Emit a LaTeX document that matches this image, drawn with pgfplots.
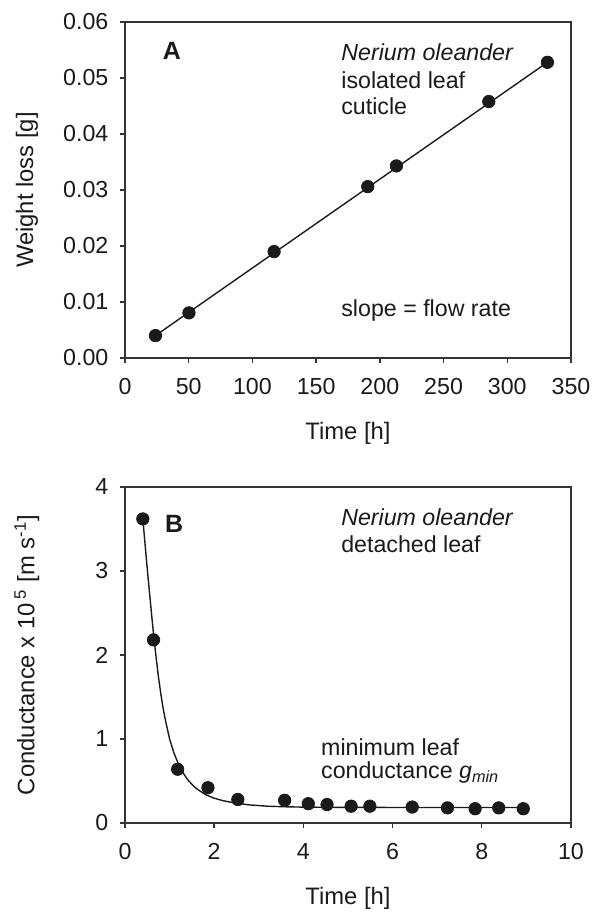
\documentclass[border=0pt]{standalone}
\usepackage{fontspec}
\setmainfont{Liberation Sans}
\usepackage{pgfplots}
\pgfplotsset{compat=1.18}
\definecolor{ink}{HTML}{1A1A1A}
\definecolor{axc}{HTML}{333333}
\begin{document}
\begin{tikzpicture}
\path[use as bounding box] (0,0) rectangle (299.5pt,456pt);
\pgfplotsset{
  panel/.style={
    scale only axis, width=223pt, height=168pt, anchor=south west,
    axis line style={axc, line width=0.8pt},
    tick style={axc, line width=0.7pt},
    tick align=outside, major tick length=2.5pt,
    xtick pos=bottom, ytick pos=left,
    tick label style={font=\fontsize{11.6}{13}\selectfont, text=ink},
    /pgf/number format/assume math mode=true,
    xticklabel style={yshift=-4pt},
    yticklabel style={xshift=-2.3pt},
    every axis x label/.style={at={(axis description cs:0.5,0)}, anchor=center, yshift=-37.5pt, font=\fontsize{11.9}{14}\selectfont, text=ink},
    every axis y label/.style={at={(axis description cs:-0.22,0.5)}, anchor=center, rotate=90, font=\fontsize{11.9}{14}\selectfont, text=ink},
    clip=false,
  }
}
\begin{axis}[panel, at={(62.5pt,277pt)},
  xmin=0, xmax=350, ymin=0, ymax=0.06,
  xtick={0,50,...,350}, ytick={0,0.01,...,0.06},
  yticklabel style={/pgf/number format/fixed, /pgf/number format/fixed zerofill, /pgf/number format/precision=2},
  scaled y ticks=false,
  xlabel={Time [h]}, ylabel={Weight loss [g]},
]
\addplot[ink, line width=0.7pt] coordinates {(23.9,0.0040) (331.5,0.0528)};
\addplot[only marks, mark=*, mark size=3.1pt, ink] coordinates {
(23.9,0.0040) (50.2,0.00806) (117,0.0190) (190.5,0.0306) (213,0.0343) (285.5,0.0458) (331.5,0.0528)};
\node[font=\fontsize{12.5}{14}\selectfont\bfseries, text=ink] at (axis cs:36.9,0.0548) {A};
\node[anchor=west, inner sep=0pt, font=\fontsize{11.6}{13}\selectfont\itshape, text=ink] at (axis cs:169.5,0.0546) {Nerium oleander};
\node[anchor=west, inner sep=0pt, font=\fontsize{11.6}{13}\selectfont, text=ink] at (axis cs:169.5,0.0496) {isolated leaf};
\node[anchor=west, inner sep=0pt, font=\fontsize{11.6}{13}\selectfont, text=ink] at (axis cs:169.5,0.0450) {cuticle};
\node[anchor=west, inner sep=0pt, font=\fontsize{11.6}{13}\selectfont, text=ink] at (axis cs:169.5,0.00857) {slope = flow rate};
\end{axis}
\begin{axis}[panel, at={(62.5pt,44.5pt)},
  xmin=0, xmax=10, ymin=0, ymax=4,
  xtick={0,2,...,10}, ytick={0,1,...,4},
  xlabel={Time [h]}, ylabel={Conductance x 10\,\textsuperscript{5} [m s\textsuperscript{-1}]},
]
\addplot[ink, line width=0.7pt] coordinates {
(0.40,3.62) (0.45,3.32) (0.50,3.02) (0.55,2.74) (0.60,2.46) (0.65,2.20) (0.70,1.96)
(0.75,1.74) (0.80,1.55) (0.85,1.38) (0.90,1.24) (1.0,1.00) (1.1,0.83) (1.2,0.70)
(1.3,0.60) (1.4,0.52) (1.5,0.46) (1.6,0.41) (1.8,0.34) (2.0,0.295) (2.2,0.265)
(2.5,0.235) (2.8,0.215) (3.2,0.200) (3.6,0.193) (4.0,0.189) (5.0,0.186) (6.0,0.185)
(7.0,0.185) (8.0,0.185) (8.95,0.185)};
\addplot[only marks, mark=*, mark size=3.1pt, ink] coordinates {
(0.40,3.62) (0.64,2.18) (1.18,0.64) (1.86,0.42) (2.53,0.28) (3.58,0.27) (4.11,0.23)
(4.53,0.22) (5.07,0.20) (5.49,0.20) (6.44,0.19) (7.23,0.18) (7.85,0.17) (8.38,0.18) (8.93,0.17)};
\node[font=\fontsize{12.5}{14}\selectfont\bfseries, text=ink] at (axis cs:1.1,3.56) {B};
\node[anchor=west, inner sep=0pt, font=\fontsize{11.6}{13}\selectfont\itshape, text=ink] at (axis cs:4.84,3.64) {Nerium oleander};
\node[anchor=west, inner sep=0pt, font=\fontsize{11.6}{13}\selectfont, text=ink] at (axis cs:4.84,3.32) {detached leaf};
\node[anchor=west, inner sep=0pt, font=\fontsize{11.6}{13}\selectfont, text=ink] at (axis cs:4.39,0.907) {minimum leaf};
\node[anchor=west, inner sep=0pt, font=\fontsize{11.6}{13}\selectfont, text=ink] at (axis cs:4.39,0.597) {conductance \textit{g}\textsubscript{\textit{min}}};
\end{axis}
\end{tikzpicture}
\end{document}
